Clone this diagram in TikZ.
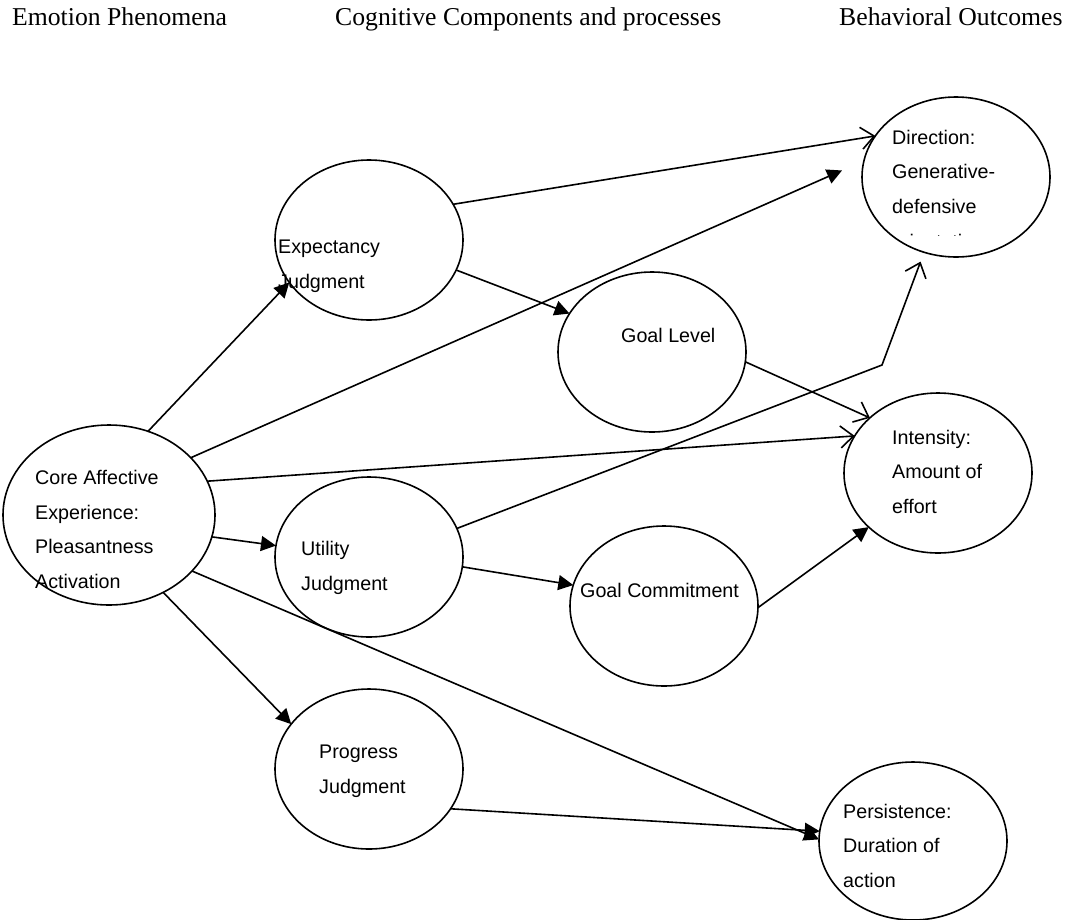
\documentclass[tikz,border=0pt]{standalone}
\usepackage{fontspec}
\setmainfont{Liberation Serif}
\newfontfamily\arialfont{Liberation Sans}
\usetikzlibrary{arrows.meta,shapes.geometric}

\begin{document}
\begin{tikzpicture}[x=1pt,y=-1pt]
  \tikzset{emobox/.style={draw,ellipse,line width=1.6pt,inner sep=0pt,outer sep=0pt,
    minimum width=188pt,minimum height=160pt},
    emotext/.style={anchor=base west,align=left,inner sep=0pt,
    font=\arialfont\fontsize{19.7}{34.5}\selectfont},
    headtext/.style={anchor=base west,inner sep=0pt,font=\fontsize{25.7}{30}\selectfont},
    fillarrow/.style={-{Triangle[length=15pt,width=15pt]},line width=1.6pt},
    openarrow/.style={-{Straight Barb[length=13pt,width=22pt]},line width=1.6pt}}
  \useasboundingbox (0,0) rectangle (1078,919);
  % column heads
  \node[headtext] (hemo) at (12,25) {Emotion Phenomena};
  \node[headtext] (hcog) at (335,25) {Cognitive Components and processes};
  \node[headtext] (hbeh) at (839,25) {Behavioral Outcomes};
  % ellipses
  \node[emobox,minimum width=212pt,minimum height=180pt] (core) at (109,515) {};
  \node[emobox] (expect) at (369,240) {};
  \node[emobox] (level) at (652,352) {};
  \node[emobox] (utility) at (369,557) {};
  \node[emobox] (commit) at (664,606) {};
  \node[emobox] (progress) at (369,769) {};
  \node[emobox] (direct) at (956,177) {};
  \node[emobox] (intens) at (938,473) {};
  \node[emobox,minimum height=158pt] (persist) at (913,841) {};
  % texts (anchored on the last line)
  \node[emotext] (coretxt) at (35,588) {Core Affective\\Experience:\\Pleasantness\\Activation};
  \node[emotext] (expecttxt) at (278,288) {Expectancy\\Judgment};
  \node[emotext] (leveltxt) at (621,342) {Goal Level};
  \node[emotext] (utilitytxt) at (301,590) {Utility\\Judgment};
  \node[emotext] (committxt) at (580,597) {Goal Commitment};
  \node[emotext] (progresstxt) at (319,793) {Progress\\Judgment};
  \node[emotext] (directtxt) at (892,213) {Direction:\\Generative-\\defensive};
  \node[emotext] (intenstxt) at (892,513) {Intensity:\\Amount of\\effort};
  \node[emotext] (persisttxt) at (843,887) {Persistence:\\Duration of\\action};
  \begin{scope}
    \clip (880,200) rectangle (1010,235);
    \node[emotext] (directrest) at (892,248) {orientation};
  \end{scope}
  % arrows
  \draw[fillarrow] (core.65) -- (expect.208);
  \draw[fillarrow,shorten >=24pt] (core.35) -- (direct.170);
  \draw[openarrow] (core.19) -- (intens.156);
  \draw[fillarrow] (core.-12) -- (utility.173);
  \draw[fillarrow] (core.-34) -- (persist.179);
  \draw[fillarrow] (core.-55) -- (progress.150);
  \draw[openarrow] (expect.23) -- (direct.153);
  \draw[fillarrow] (expect.-19) -- (level.155);
  \draw[openarrow] (level.-6) -- (intens.141);
  \coordinate (kink) at (882,365);
  \draw[openarrow,shorten >=10pt] (utility.18) -- (kink) -- (direct.247);
  \draw[fillarrow] (utility.-6) -- (commit.167);
  \draw[fillarrow] (commit.-1) -- (intens.218);
  \draw[fillarrow] (progress.-26) -- (persist.174);
\end{tikzpicture}
\end{document}
